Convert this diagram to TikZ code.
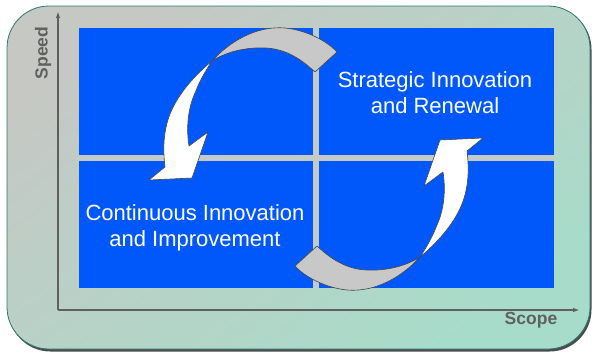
\documentclass[tikz,border=0pt]{standalone}
\usepackage{fontspec}
\setmainfont{Liberation Sans}
\usetikzlibrary{arrows.meta}
\definecolor{qblue}{RGB}{0,88,250}
\definecolor{gapgray}{RGB}{196,202,200}
\definecolor{bgtop}{RGB}{198,200,196}
\definecolor{bgbot}{RGB}{168,220,202}
\definecolor{rimteal}{RGB}{40,120,110}
\definecolor{axisgray}{RGB}{96,96,96}
\definecolor{bandgray}{RGB}{200,200,200}
\definecolor{edgegray}{RGB}{70,70,70}
\tikzset{
  maintext/.style={text=white, inner sep=0pt, font=\fontsize{22}{26}\selectfont},
  axislabel/.style={text=axisgray, inner sep=0pt, font=\fontsize{17.5}{20}\selectfont\bfseries},
  axisline/.style={draw=axisgray, line width=1.4pt, -{Latex[length=7pt,width=4.5pt]}},
  quad/.style={fill=qblue},
  band/.style={fill=bandgray, draw=edgegray, line width=0.6pt, line join=round},
  shaft/.style={fill=white, draw=edgegray, line width=0.6pt, line join=round},
  twist/.pic={
    \path[band] (212,61) .. controls (235,36) and (262,26) .. (285,28)
       .. controls (305,30) and (326,40) .. (337,52) -- (315,72)
       .. controls (300,58) and (285,49) .. (266,48)
       .. controls (245,47) and (226,52) .. (212,61) -- cycle;
    \path[shaft] (212,61) .. controls (195,75) and (178,94) .. (170,114)
       .. controls (163,132) and (163,150) .. (165,167) -- (149,180) -- (192,178)
       -- (208,132) -- (189,146)
       .. controls (186,128) and (188,108) .. (195,93)
       .. controls (200,80) and (206,70) .. (212,61) -- cycle;
  }
}
\begin{document}
\begin{tikzpicture}[x=1pt,y=-1pt]
\useasboundingbox (0,0) rectangle (595,354);
% frame
\fill[black!70, rounded corners=42pt] (8.5,7.5) rectangle (591.5,351.5);
\shade[rounded corners=42pt, top color=bgtop, bottom color=bgbot, shading angle=35] (7,6) rectangle (590,349);
\draw[rimteal, line width=0.8pt, rounded corners=42pt] (7,6) rectangle (590,349);
% grid
\fill[gapgray] (79,28) rectangle (554,288);
\fill[quad] (79,28) rectangle (313,155);
\fill[quad] (319,28) rectangle (554,155);
\fill[quad] (79,161) rectangle (313,288);
\fill[quad] (319,161) rectangle (554,288);
% axes
\coordinate (O) at (58,310);
\coordinate (ytip) at (58,11);
\coordinate (xtip) at (580,310);
\draw[axisline] (O) -- (ytip);
\draw[axisline] (O) -- (xtip);
\node[axislabel, rotate=90] (speed) at (43,53) {Speed};
\node[axislabel] (scope) at (531,320) {Scope};
% twisted arrows (second is the first turned half round the grid centre)
\pic at (0,0) {twist};
\pic[rotate=180] at (632,318) {twist};
% texts
\node[maintext, anchor=base] (s1) at (435,87) {Strategic Innovation};
\node[maintext, anchor=base] (s2) at (435,113) {and Renewal};
\node[maintext, anchor=base] (c1) at (195,220) {Continuous Innovation};
\node[maintext, anchor=base] (c2) at (195,246) {and Improvement};
\end{tikzpicture}
\end{document}
